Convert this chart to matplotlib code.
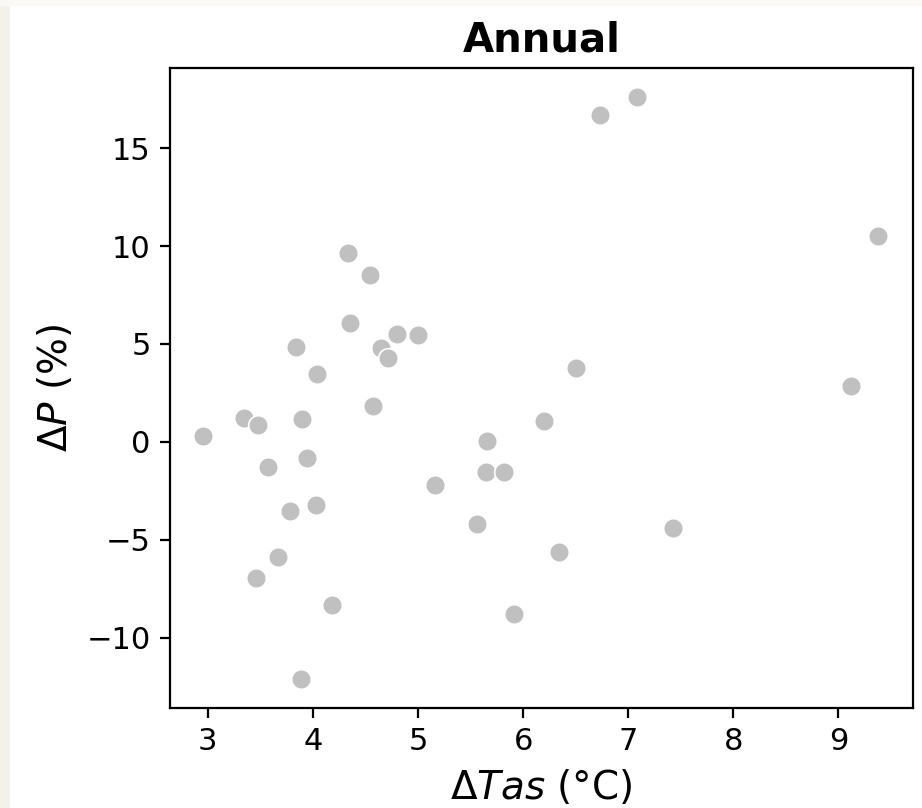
"""
Scatter of projected annual precipitation change against warming.
"""
import matplotlib
matplotlib.use("Agg")
import matplotlib.pyplot as plt
from matplotlib.patches import Rectangle
import pandas as pd
import seaborn as sns

# Per-model changes: temperature (degC) and precipitation (%)
delta_tas = [2.95, 3.34, 3.48, 3.57, 3.46, 3.67, 3.78, 3.84, 3.90, 3.94,
             4.03, 4.04, 4.18, 3.89, 4.33, 4.35, 4.54, 4.57, 4.65, 4.71,
             4.80, 5.00, 5.16, 5.56, 5.66, 5.65, 5.82, 5.91, 6.20, 6.34,
             6.50, 6.73, 7.08, 7.43, 9.12, 9.38]
delta_pr = [0.31, 1.22, 0.87, -1.28, -6.95, -5.87, -3.50, 4.85, 1.15, -0.82,
            -3.19, 3.47, -8.32, -12.11, 9.64, 6.07, 8.50, 1.84, 4.80, 4.30,
            5.51, 5.44, -2.20, -4.18, 0.05, -1.55, -1.55, -8.78, 1.07, -5.61,
            3.78, 16.68, 17.60, -4.39, 2.86, 10.51]

df = pd.DataFrame({"tas": delta_tas, "pr": delta_pr})

fig = plt.figure(figsize=(4.61, 4.04), dpi=200)
ax = fig.add_axes([0.1844, 0.1238, 0.8058, 0.792])

# page margin strips
fig.patches.append(Rectangle((0, 0), 0.011, 1, transform=fig.transFigure,
                             facecolor="#f3f1ea", edgecolor="none", zorder=0))
fig.patches.append(Rectangle((0, 0.993), 1, 0.007, transform=fig.transFigure,
                             facecolor="#faf9f5", edgecolor="none", zorder=0))

sns.scatterplot(data=df, x="tas", y="pr", color="silver", s=50,
                edgecolor="white", linewidth=0.6, ax=ax)

ax.set_xlim(2.64, 9.71)
ax.set_ylim(-13.57, 19.08)
ax.set_xticks([3, 4, 5, 6, 7, 8, 9])
ax.set_yticks([-10, -5, 0, 5, 10, 15])
ax.tick_params(labelsize=11)

ax.set_title("Annual", fontsize=14.5, fontweight="bold")
ax.set_xlabel(r"$\Delta Tas$ (°C)", fontsize=14)
ax.set_ylabel(r"$\Delta P$ (%)", fontsize=14)

fig.savefig("out.png", dpi=200)
